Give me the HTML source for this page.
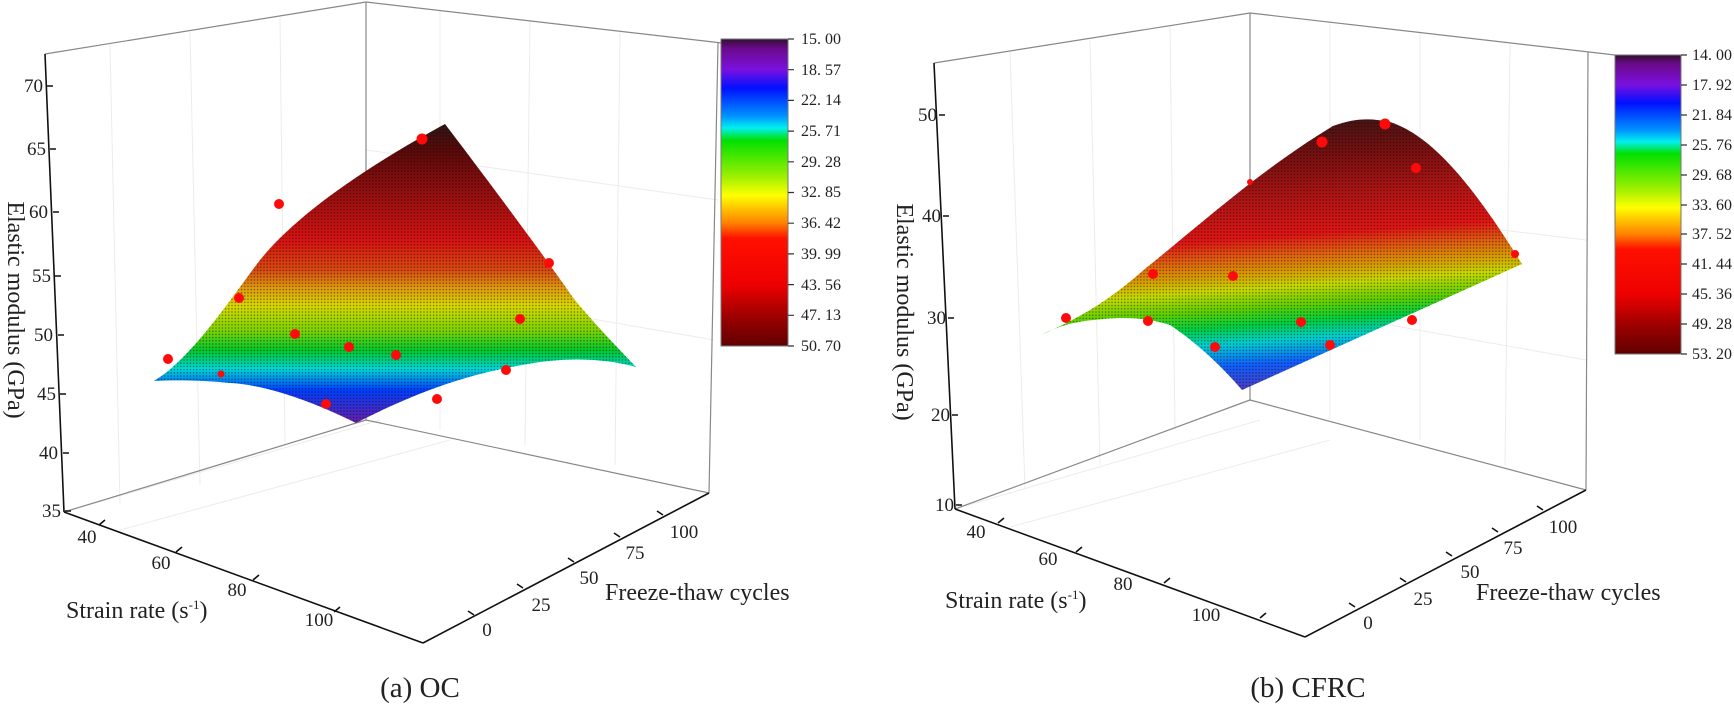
<!DOCTYPE html>
<html><head><meta charset="utf-8"><style>
html,body{margin:0;padding:0;background:#fff;}
svg{display:block;}
text{font-family:"Liberation Serif",serif;fill:#222;}
.tk{font-size:19px;}
.cb{font-size:16px;fill:#555;}
.ttl{font-size:24px;}
.cap{font-size:29px;}
</style></head><body>
<svg width="1734" height="704" viewBox="0 0 1734 704" xmlns="http://www.w3.org/2000/svg">
<defs>
<pattern id="dots" width="3.2" height="3.2" patternUnits="userSpaceOnUse"><circle cx="1.6" cy="1.6" r="0.75" fill="#000" fill-opacity="0.45"/></pattern>
<linearGradient id="gL" gradientUnits="userSpaceOnUse" x1="0" y1="120" x2="0" y2="420">
<stop offset="0" stop-color="#2a1818"/><stop offset="0.1" stop-color="#5a0a0a"/><stop offset="0.27" stop-color="#a01010"/><stop offset="0.4" stop-color="#d81212"/><stop offset="0.5" stop-color="#d84a10"/><stop offset="0.56" stop-color="#e09a10"/><stop offset="0.62" stop-color="#d8d800"/><stop offset="0.7" stop-color="#80d400"/><stop offset="0.77" stop-color="#00c830"/><stop offset="0.83" stop-color="#00d8d8"/><stop offset="0.9" stop-color="#0040ff"/><stop offset="1" stop-color="#6020b0"/>
</linearGradient>
<linearGradient id="gR" gradientUnits="userSpaceOnUse" x1="1280" y1="115" x2="1300" y2="395">
<stop offset="0" stop-color="#3a1515"/><stop offset="0.16" stop-color="#7a1010"/><stop offset="0.3" stop-color="#b01515"/><stop offset="0.43" stop-color="#e01515"/><stop offset="0.5" stop-color="#e06010"/><stop offset="0.56" stop-color="#d8a000"/><stop offset="0.61" stop-color="#c8d800"/><stop offset="0.68" stop-color="#60d000"/><stop offset="0.74" stop-color="#00d040"/><stop offset="0.8" stop-color="#00d0d0"/><stop offset="0.88" stop-color="#1060ff"/><stop offset="1" stop-color="#6030b0"/>
</linearGradient>
<linearGradient id="cbar" x1="0" y1="0" x2="0" y2="1">
<stop offset="0" stop-color="#301030"/><stop offset="0.03" stop-color="#6a0a8a"/><stop offset="0.1" stop-color="#7a10e0"/><stop offset="0.16" stop-color="#0010ff"/><stop offset="0.25" stop-color="#0090ff"/><stop offset="0.29" stop-color="#00f0f0"/><stop offset="0.33" stop-color="#00e000"/><stop offset="0.45" stop-color="#a0f000"/><stop offset="0.51" stop-color="#ffff00"/><stop offset="0.6" stop-color="#ff8000"/><stop offset="0.65" stop-color="#ff1000"/><stop offset="0.8" stop-color="#ee0000"/><stop offset="0.9" stop-color="#a00000"/><stop offset="1" stop-color="#600000"/>
</linearGradient>
</defs>

<!-- ===== LEFT PANEL ===== -->
<g stroke="#ececec" stroke-width="1" fill="none">
<line x1="110" y1="45" x2="120" y2="505"/><line x1="190" y1="32" x2="200" y2="485"/><line x1="280" y1="17" x2="285" y2="445"/>
<line x1="440" y1="10" x2="440" y2="430"/><line x1="530" y1="20" x2="525" y2="445"/><line x1="620" y1="31" x2="615" y2="465"/>
<line x1="64" y1="512" x2="380" y2="420"/><line x1="120" y1="530" x2="450" y2="440"/>
<line x1="366" y1="150" x2="718" y2="200"/><line x1="366" y1="280" x2="714" y2="340"/>
</g>
<g stroke="#888" stroke-width="1.2" fill="none">
<line x1="45" y1="54" x2="366" y2="2"/><line x1="366" y1="2" x2="722" y2="43"/>
<line x1="366" y1="2" x2="366" y2="420"/><line x1="718" y1="43" x2="709" y2="493"/>
<line x1="64" y1="512" x2="366" y2="420"/><line x1="366" y1="420" x2="709" y2="493"/>
</g>
<path d="M154,381 C190,360 230,300 257,264 C290,220 360,170 445,124 C480,170 540,250 574,299 C600,330 620,350 636,367 C600,357 560,358 528,364 C480,372 430,385 356,423 C320,405 270,385 230,383 C200,380 175,380 154,381 Z" fill="url(#gL)"/>
<path d="M154,381 C190,360 230,300 257,264 C290,220 360,170 445,124 C480,170 540,250 574,299 C600,330 620,350 636,367 C600,357 560,358 528,364 C480,372 430,385 356,423 C320,405 270,385 230,383 C200,380 175,380 154,381 Z" fill="url(#dots)"/>
<g fill="#ff0a0a">
<circle cx="422" cy="139" r="5.5"/><circle cx="279" cy="204" r="5"/><circle cx="549" cy="263" r="5"/><circle cx="239" cy="298" r="5"/><circle cx="520" cy="319" r="5"/><circle cx="295" cy="334" r="5"/><circle cx="168" cy="359" r="5"/><circle cx="349" cy="347" r="5"/><circle cx="396" cy="355" r="5"/><circle cx="221" cy="374" r="3.5"/><circle cx="506" cy="370" r="5"/><circle cx="326" cy="404" r="5"/><circle cx="437" cy="399" r="5"/>
</g>
<g stroke="#111" stroke-width="1.6" fill="none">
<line x1="45" y1="54" x2="64" y2="512"/>
<line x1="64" y1="512" x2="423" y2="643"/><line x1="423" y1="643" x2="709" y2="493"/>
<path d="M47,86h6M50,149h6M53,212h6M55,276h6M58,335h6M60,394h6M63,453h6M65,511h6"/>
<path d="M99,525l6,-5M176,552l6,-5M253,580l6,-5M334,612l6,-5"/>
<path d="M474,615l-6,-4M523,588l-6,-4M574,562l-6,-4M620,537l-6,-4M663,515l-6,-4"/>
</g>
<g class="tk" text-anchor="end">
<text x="43" y="92">70</text><text x="46" y="155">65</text><text x="48" y="218">60</text><text x="51" y="282">55</text><text x="53" y="341">50</text><text x="56" y="400">45</text><text x="58" y="459">40</text><text x="61" y="517">35</text>
</g>
<g class="tk" text-anchor="middle">
<text x="87" y="543">40</text><text x="161" y="569">60</text><text x="237" y="596">80</text><text x="319" y="626">100</text>
<text x="487" y="636">0</text><text x="541" y="611">25</text><text x="589" y="584">50</text><text x="635" y="559">75</text><text x="684" y="538">100</text>
</g>
<text class="ttl" x="66" y="618">Strain rate (s<tspan font-size="13" dy="-9">-1</tspan><tspan dy="9">)</tspan></text>
<text class="ttl" x="605" y="600">Freeze-thaw cycles</text>
<text class="ttl" transform="translate(8,310) rotate(90)" text-anchor="middle" font-size="25">Elastic modulus (GPa)</text>
<rect x="721" y="39" width="67" height="307" fill="url(#cbar)" stroke="#777" stroke-width="1"/>
<g stroke="#333" stroke-width="1.2"><path d="M788,39h6M788,69.7h6M788,100.4h6M788,131.1h6M788,161.8h6M788,192.5h6M788,223.2h6M788,253.9h6M788,284.6h6M788,315.3h6M788,346h6"/></g>
<g class="cb">
<text x="801" y="44">15. 00</text><text x="801" y="75">18. 57</text><text x="801" y="105">22. 14</text><text x="801" y="136">25. 71</text><text x="801" y="167">29. 28</text><text x="801" y="197">32. 85</text><text x="801" y="228">36. 42</text><text x="801" y="259">39. 99</text><text x="801" y="290">43. 56</text><text x="801" y="320">47. 13</text><text x="801" y="351">50. 70</text>
</g>
<text class="cap" x="420" y="697" text-anchor="middle">(a) OC</text>

<!-- ===== RIGHT PANEL ===== -->
<g stroke="#ececec" stroke-width="1" fill="none">
<line x1="1010" y1="52" x2="1025" y2="488"/><line x1="1090" y1="40" x2="1100" y2="465"/><line x1="1170" y1="26" x2="1175" y2="430"/>
<line x1="1330" y1="22" x2="1330" y2="420"/><line x1="1420" y1="33" x2="1420" y2="440"/><line x1="1510" y1="44" x2="1505" y2="465"/>
<line x1="955" y1="509" x2="1260" y2="420"/><line x1="1010" y1="527" x2="1330" y2="440"/>
<line x1="1250" y1="200" x2="1586" y2="240"/><line x1="1250" y1="300" x2="1586" y2="360"/>
</g>
<g stroke="#888" stroke-width="1.2" fill="none">
<line x1="934" y1="63" x2="1250" y2="13"/><line x1="1250" y1="13" x2="1615" y2="55"/>
<line x1="1250" y1="13" x2="1250" y2="400"/><line x1="1588" y1="52" x2="1586" y2="490"/>
<line x1="955" y1="509" x2="1250" y2="400"/><line x1="1250" y1="400" x2="1586" y2="490"/>
</g>
<path d="M1041,335 C1080,318 1110,300 1146,268 C1200,225 1260,170 1333,126 C1355,118 1370,118 1390,122 C1430,135 1470,180 1522,264 L1242,390 C1225,370 1200,345 1170,325 C1140,315 1110,318 1094,320 C1070,322 1055,328 1041,335 Z" fill="url(#gR)"/>
<path d="M1041,335 C1080,318 1110,300 1146,268 C1200,225 1260,170 1333,126 C1355,118 1370,118 1390,122 C1430,135 1470,180 1522,264 L1242,390 C1225,370 1200,345 1170,325 C1140,315 1110,318 1094,320 C1070,322 1055,328 1041,335 Z" fill="url(#dots)"/>
<g fill="#ff0a0a">
<circle cx="1385" cy="124" r="5.5"/><circle cx="1322" cy="142" r="5.5"/><circle cx="1416" cy="168" r="5"/><circle cx="1153" cy="274" r="5"/><circle cx="1233" cy="276" r="5"/><circle cx="1066" cy="318" r="5"/><circle cx="1148" cy="321" r="5"/><circle cx="1301" cy="322" r="5"/><circle cx="1412" cy="320" r="5"/><circle cx="1215" cy="347" r="5"/><circle cx="1330" cy="345" r="5"/><circle cx="1515" cy="254" r="4"/><circle cx="1250" cy="182" r="3"/>
</g>
<g stroke="#111" stroke-width="1.6" fill="none">
<line x1="934" y1="63" x2="955" y2="509"/>
<line x1="955" y1="509" x2="1305" y2="637"/><line x1="1305" y1="637" x2="1586" y2="490"/>
<path d="M939,115h6M943,216h6M948,318h6M952,415h6M956,505h6"/>
<path d="M998,523l6,-5M1076,552l6,-5M1164,583l6,-5M1260,618l6,-5"/>
<path d="M1355,607l-6,-4M1406,582l-6,-4M1452,556l-6,-4M1498,532l-6,-4M1543,510l-6,-4"/>
</g>
<g class="tk" text-anchor="end">
<text x="937" y="121">50</text><text x="941" y="222">40</text><text x="946" y="324">30</text><text x="950" y="421">20</text><text x="954" y="511">10</text>
</g>
<g class="tk" text-anchor="middle">
<text x="976" y="538">40</text><text x="1048" y="565">60</text><text x="1123" y="590">80</text><text x="1206" y="621">100</text>
<text x="1368" y="629">0</text><text x="1423" y="605">25</text><text x="1470" y="578">50</text><text x="1513" y="554">75</text><text x="1563" y="533">100</text>
</g>
<text class="ttl" x="945" y="608">Strain rate (s<tspan font-size="13" dy="-9">-1</tspan><tspan dy="9">)</tspan></text>
<text class="ttl" x="1476" y="600">Freeze-thaw cycles</text>
<text class="ttl" transform="translate(897,312) rotate(90)" text-anchor="middle" font-size="25">Elastic modulus (GPa)</text>
<rect x="1615" y="55" width="66" height="299" fill="url(#cbar)" stroke="#777" stroke-width="1"/>
<g stroke="#333" stroke-width="1.2"><path d="M1681,55h6M1681,85h6M1681,115h6M1681,145h6M1681,175h6M1681,205h6M1681,234h6M1681,264h6M1681,294h6M1681,324h6M1681,354h6"/></g>
<g class="cb">
<text x="1692" y="60">14. 00</text><text x="1692" y="90">17. 92</text><text x="1692" y="120">21. 84</text><text x="1692" y="150">25. 76</text><text x="1692" y="180">29. 68</text><text x="1692" y="210">33. 60</text><text x="1692" y="239">37. 52</text><text x="1692" y="269">41. 44</text><text x="1692" y="299">45. 36</text><text x="1692" y="329">49. 28</text><text x="1692" y="359">53. 20</text>
</g>
<text class="cap" x="1308" y="697" text-anchor="middle">(b) CFRC</text>
</svg>
</body></html>
